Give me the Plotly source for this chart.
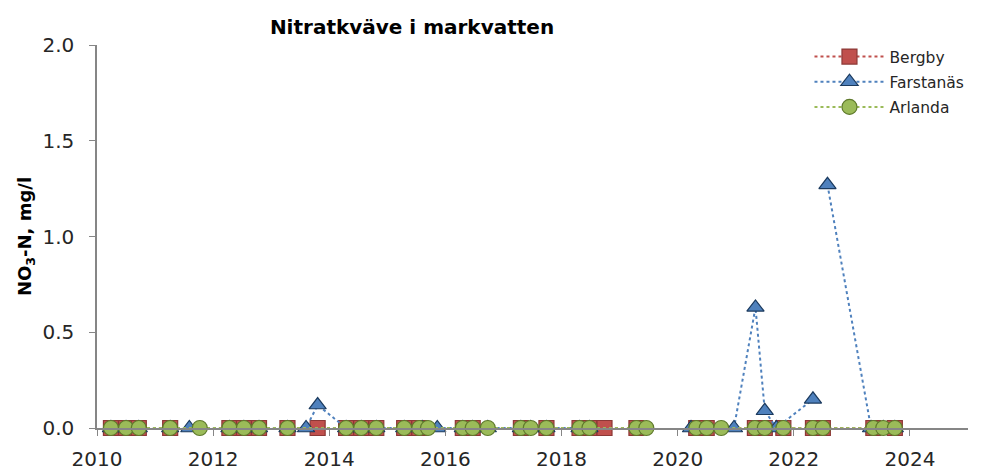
import plotly.graph_objects as go

# sampling dates (decimal years) and NO3-N values, mg/l; None = gap in the line
bergby_x = [2010.24, 2010.50, 2010.72, 2011.26, 2012.28, 2012.53, 2012.79, 2013.28, 2013.80,
            2014.29, 2014.55, 2014.81, 2015.29, 2015.55, 2016.30, 2016.47, 2017.30, 2017.74,
            2018.31, 2018.48, 2018.74, 2019.29, None, 2020.32, 2020.50, 2021.33, 2021.50,
            2021.82, 2022.33, 2022.50, 2023.37, 2023.74]
bergby_y = [0, 0, 0, 0, 0, 0, 0, 0, 0,
            0, 0, 0, 0, 0, 0, 0, 0, 0,
            0, 0, 0, 0, None, 0, 0, 0, 0,
            0, 0, 0, 0, 0]

farstanas_x = [2010.24, 2010.50, 2010.72, 2011.26, 2011.59, 2012.28, 2012.53, 2012.79, 2013.28,
               2013.60, 2013.80, 2014.29, 2014.55, 2014.81, 2015.29, 2015.60, 2015.86, 2016.30,
               2016.47, 2016.73, 2017.30, 2017.47, 2017.74, 2018.31, 2018.48, None, 2020.23,
               2020.97, 2021.34, 2021.50, 2021.70, 2022.33, None, 2022.58, 2023.33, 2023.54,
               2023.74]
farstanas_y = [0, 0, 0, 0, 0, 0, 0, 0, 0,
               0, 0.12, 0, 0, 0, 0, 0, 0, 0,
               0, 0, 0, 0, 0, 0, 0, None, 0,
               0, 0.63, 0.09, 0, 0.15, None, 1.27, 0, 0,
               0]

arlanda_x = [2010.24, 2010.50, 2010.72, 2011.26, 2011.77, 2012.28, 2012.53, 2012.79, 2013.28,
             2014.29, 2014.55, 2014.81, 2015.29, 2015.55, 2015.70, 2016.30, 2016.47, 2016.73,
             2017.30, 2017.47, 2017.74, 2018.31, 2018.48, 2019.29, 2019.46, None, 2020.32,
             2020.50, 2020.75, 2021.33, 2021.50, 2021.82, 2022.33, 2022.50, 2023.37, 2023.54,
             2023.74]
arlanda_y = [0, 0, 0, 0, 0, 0, 0, 0, 0,
             0, 0, 0, 0, 0, 0, 0, 0, 0,
             0, 0, 0, 0, 0, 0, 0, None, 0,
             0, 0, 0, 0, 0, 0, 0, 0, 0,
             0]

x_ticks = [2010, 2012, 2014, 2016, 2018, 2020, 2022, 2024]
y_ticks = [0.0, 0.5, 1.0, 1.5, 2.0]

FONT = "DejaVu Sans"
AXIS_GREY = "#868686"


def add_series(fig, name, xs, ys, symbol, fill, edge):
    fig.add_trace(go.Scatter(x = xs, y = ys, name = name, mode = "lines+markers",
                             legendgroup = name,
                             connectgaps = False, cliponaxis = False,
                             line = dict(color = fill, width = 2, dash = "dot"),
                             marker = dict(symbol = symbol, size = 15, color = fill,
                                           line = dict(color = edge, width = 1.2))))


fig = go.Figure()
add_series(fig, "Bergby", bergby_x, bergby_y, "square", "#C0504D", "#8C3836")
add_series(fig, "Farstanäs", farstanas_x, farstanas_y, "triangle-up", "#4F81BD", "#1B3A5E")
add_series(fig, "Arlanda", arlanda_x, arlanda_y, "circle", "#9BBB59", "#5F7A2C")

# the page body adds an 8px margin, so everything is placed 8px up/left of the reference
fig.update_layout(width = 981, height = 471, template = "plotly_white",
                  paper_bgcolor = "white", plot_bgcolor = "white",
                  margin = dict(l = 89, r = 21, t = 37, b = 51),
                  font = dict(family = FONT, size = 17, color = "#262626"),
                  title = dict(text = "<b>Nitratkväve i markvatten</b>", x = 404 / 981, xanchor = "center",
                               y = 1 - 19 / 471, yanchor = "middle",
                               font = dict(family = FONT, size = 20, color = "#000000")),
                  legend = dict(x = 0.818, y = 1.013, xanchor = "left", yanchor = "top",
                                bgcolor = "rgba(0,0,0,0)", font = dict(size = 15.5, color = "#262626"),
                                itemwidth = 70, tracegroupgap = 2),
                  showlegend = True)

fig.update_xaxes(range = [2010, 2025], tickvals = x_ticks, ticktext = [str(t) for t in x_ticks],
                 showgrid = False, zeroline = False, showline = True, linecolor = AXIS_GREY,
                 linewidth = 1.5, ticks = "outside", ticklen = 6, tickcolor = AXIS_GREY,
                 ticklabelstandoff = 6, automargin = False,
                 tickfont = dict(size = 20, color = "#262626"))
fig.update_yaxes(range = [0, 2], tickvals = y_ticks, ticktext = ["%.1f" % t for t in y_ticks],
                 showgrid = False, zeroline = False, showline = True, linecolor = AXIS_GREY,
                 linewidth = 1.5, ticks = "outside", ticklen = 6, tickcolor = AXIS_GREY,
                 ticklabelstandoff = 11, automargin = False,
                 tickfont = dict(size = 20, color = "#262626"),
                 title = dict(text = "<b>NO<sub>3</sub>-N, mg/l</b>", standoff = 6,
                              font = dict(size = 18, color = "#000000")))

fig.write_html("out.html")
